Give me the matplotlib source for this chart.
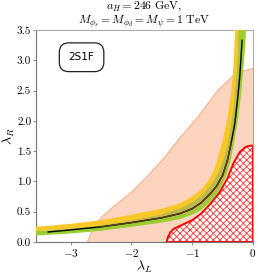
import matplotlib
matplotlib.use('Agg')
import matplotlib.pyplot as plt

plt.rcParams['font.family'] = 'cmr10'
plt.rcParams['mathtext.fontset'] = 'cm'
plt.rcParams['axes.formatter.use_mathtext'] = True
plt.rcParams['hatch.linewidth'] = 0.6

# central curve (lambda_L, lambda_R)
line_L = [-3.37, -3.0, -2.5, -2.0, -1.5, -1.2, -1.0, -0.85, -0.7, -0.6, -0.5, -0.42, -0.36, -0.3, -0.26, -0.22, -0.2, -0.18]
line_R = [0.165, 0.20, 0.25, 0.32, 0.40, 0.47, 0.55, 0.65, 0.80, 0.92, 1.10, 1.35, 1.63, 1.95, 2.3, 2.7, 3.0, 3.33]

# yellow band: outer (upper-left) and inner edges
yel_out_L = [-3.7, -3.0, -2.5, -2.0, -1.5, -1.2, -1.0, -0.85, -0.75, -0.67, -0.6, -0.5, -0.42, -0.36, -0.32, -0.29]
yel_out_R = [0.24, 0.30, 0.36, 0.45, 0.55, 0.64, 0.75, 0.87, 0.99, 1.13, 1.30, 1.68, 2.05, 2.45, 2.92, 3.6]
yel_in_L = [-3.7, -3.0, -2.5, -2.0, -1.5, -1.2, -1.0, -0.85, -0.7, -0.6, -0.5, -0.42, -0.36, -0.3, -0.26, -0.24, -0.22]
yel_in_R = [0.17, 0.21, 0.255, 0.31, 0.38, 0.44, 0.51, 0.60, 0.73, 0.85, 1.02, 1.25, 1.52, 1.85, 2.25, 2.7, 3.6]

# green band: inner (upper-left) and outer (lower-right) edges
grn_in_L = [-3.7, -3.0, -2.5, -2.0, -1.5, -1.2, -1.0, -0.85, -0.7, -0.6, -0.5, -0.42, -0.36, -0.31, -0.28, -0.25, -0.23]
grn_in_R = [0.17, 0.215, 0.27, 0.35, 0.45, 0.55, 0.65, 0.76, 0.92, 1.08, 1.30, 1.58, 1.9, 2.25, 2.6, 3.0, 3.6]
grn_out_L = [-3.7, -3.0, -2.5, -2.0, -1.5, -1.2, -1.0, -0.85, -0.7, -0.6, -0.5, -0.42, -0.36, -0.3, -0.25, -0.2, -0.16, -0.13, -0.11]
grn_out_R = [0.10, 0.14, 0.185, 0.25, 0.32, 0.38, 0.45, 0.53, 0.66, 0.78, 0.96, 1.15, 1.38, 1.7, 2.0, 2.4, 2.85, 3.2, 3.6]

# peach excluded region boundary
peach_L = [-2.73, -2.70, -2.62, -2.5, -2.3, -2.0, -1.75, -1.47, -1.2, -0.91, -0.58, -0.31, -0.15, -0.05, 0.0]
peach_R = [0.0, 0.05, 0.25, 0.40, 0.58, 0.82, 1.07, 1.38, 1.72, 2.06, 2.50, 2.76, 2.83, 2.85, 2.86]

# red hatched region boundary
hatch_L = [-1.42, -1.40, -1.36, -1.30, -1.15, -1.0, -0.85, -0.7, -0.55, -0.42, -0.32, -0.22, -0.12, -0.05, 0.0]
hatch_R = [0.0, 0.08, 0.16, 0.22, 0.29, 0.36, 0.47, 0.63, 0.82, 1.05, 1.30, 1.48, 1.57, 1.59, 1.59]

fig = plt.figure(figsize=(2.58, 2.76), dpi=100)
ax = fig.add_axes([0.1395, 0.1232, 0.8411, 0.7681])

# peach region
ax.fill(peach_L + [0.0], peach_R + [0.0], color='#fdd5bf', lw=0, zorder=1)
ax.plot(peach_L, peach_R, color='#f6b08a', lw=0.8, zorder=1.5)

# hatched region
ax.fill(hatch_L + [0.0], hatch_R + [0.0], facecolor='white', edgecolor='#ff3030',
        hatch='xxxxx', lw=0, zorder=2)
ax.plot(hatch_L + [0.0, hatch_L[0]], hatch_R + [0.0, 0.0], color='red', lw=1.4, zorder=2.5)

# bands
ax.fill(yel_out_L + yel_in_L[::-1], yel_out_R + yel_in_R[::-1], color='#f8c82a', lw=0, zorder=3)
ax.fill(grn_in_L + grn_out_L[::-1], grn_in_R + grn_out_R[::-1], color='#9acd32', lw=0, zorder=3.2)
# overlap of the two bands
ax.fill(grn_in_L + yel_in_L[::-1], grn_in_R + yel_in_R[::-1], color='#bdb94e', lw=0, zorder=3.4)

# central curve
ax.plot(line_L, line_R, color='black', lw=1.0, zorder=4)
ax.plot(line_L[2:13], line_R[2:13], color='#5c3d17', lw=1.0, zorder=4.1)

ax.set_xlim(-3.57, 0)
ax.set_ylim(0, 3.5)
ax.set_xticks([-3, -2, -1, 0])
ax.set_yticks([0, 0.5, 1.0, 1.5, 2.0, 2.5, 3.0, 3.5])
ax.set_yticklabels(['0.0', '0.5', '1.0', '1.5', '2.0', '2.5', '3.0', '3.5'])
ax.tick_params(labelsize=8, length=2.5, width=0.6, color='#777777', pad=1)
for s in ax.spines.values():
    s.set_color('#aaaaaa')
    s.set_linewidth(0.8)
ax.spines['left'].set_color('#777777')
ax.spines['bottom'].set_color('#777777')

ax.set_xlabel(r'$\lambda_L$', fontsize=10, labelpad=0)
ax.set_ylabel(r'$\lambda_R$', fontsize=10)
ax.yaxis.set_label_coords(-0.088, 0.5)
ax.set_title(r'$a_H = 246\ \mathrm{GeV},$' + '\n' + r'$M_{\phi_s} = M_{\phi_d} = M_\psi = 1\ \mathrm{TeV}$',
             fontsize=8.5, pad=3, linespacing=1.0)

ax.text(-2.82, 3.05, '2S1F', family='DejaVu Sans', fontsize=7.5, ha='center', va='center', zorder=6,
        bbox=dict(boxstyle='round,pad=0.9,rounding_size=0.9', facecolor='white', edgecolor='#222222', lw=0.9))

fig.savefig('out.png', dpi=100)
